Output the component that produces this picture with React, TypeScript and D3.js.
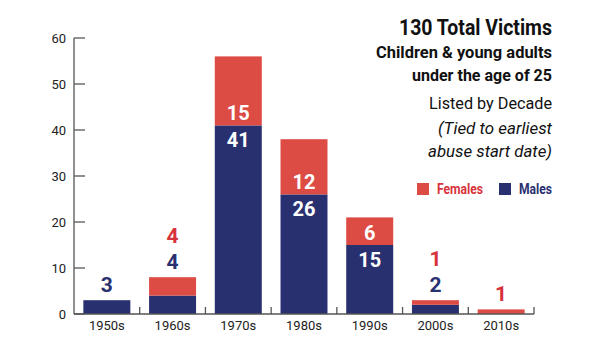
import React from 'react';
import * as d3 from 'd3';

const decades = ['1950s', '1960s', '1970s', '1980s', '1990s', '2000s', '2010s'];
const males = [3, 4, 41, 26, 15, 2, 0];
const females = [0, 4, 15, 12, 6, 1, 1];
const yTicks = [0, 10, 20, 30, 40, 50, 60];
const titleLines = [
  { text: '130 Total Victims', weight: 700, style: 'normal', size: 21.5, y: 35, w: 153 },
  { text: 'Children & young adults', weight: 700, style: 'normal', size: 17, y: 58, w: 176 },
  { text: 'under the age of 25', weight: 700, style: 'normal', size: 17, y: 81, w: 140 },
  { text: 'Listed by Decade', weight: 400, style: 'normal', size: 17, y: 109, w: 123 },
  { text: '(Tied to earliest', weight: 400, style: 'italic', size: 17, y: 134, w: 114 },
  { text: 'abuse start date)', weight: 400, style: 'italic', size: 17, y: 157, w: 124 },
];

const NAVY = '#29306f';
const RED = '#dc4b44';
const LABEL_RED = '#d8323c';
const FONT = 'Roboto, "Open Sans", sans-serif';

export default function App() {
  const W = 600, H = 338;
  const x = d3.scaleBand().domain(decades).range([74, 534]).paddingInner(0.285).paddingOuter(0.1425);
  const y = d3.scaleLinear().domain([0, 60]).range([314, 38]);
  const bw = x.bandwidth();
  const boundaries = d3.range(decades.length + 1).map((i) => 74 + i * x.step());

  return (
    <svg width={W} height={H} style={{ position: 'absolute', left: 0, top: 0, background: '#fff' }} fontFamily={FONT}>
      {/* y axis */}
      <line x1={74} x2={74} y1={y(60)} y2={y(0)} stroke="#555" strokeWidth={1.3} />
      {yTicks.map((t) => (
        <g key={t}>
          <line x1={74} x2={85} y1={y(t)} y2={y(t)} stroke="#555" strokeWidth={1.3} />
          <text x={66} y={y(t) + 4.5} textAnchor="end" fontSize={13} fill="#222">{t}</text>
        </g>
      ))}
      {/* bars */}
      {decades.map((d, i) => {
        const x0 = x(d)!;
        const m = males[i], f = females[i];
        return (
          <g key={d}>
            {m > 0 && <rect x={x0} y={y(m)} width={bw} height={y(0) - y(m)} fill={NAVY} />}
            {f > 0 && <rect x={x0} y={y(m + f)} width={bw} height={y(m) - y(m + f)} fill={RED} />}
          </g>
        );
      })}
      {/* x axis */}
      <line x1={74} x2={534} y1={y(0)} y2={y(0)} stroke="#555" strokeWidth={1.3} />
      {boundaries.slice(1).map((bx, i) => (
        <line key={i} x1={bx} x2={bx} y1={y(0)} y2={y(0) - 7} stroke="#555" strokeWidth={1.3} />
      ))}
      {decades.map((d) => (
        <text key={d} x={x(d)! + bw / 2} y={330} textAnchor="middle" fontSize={13} fill="#222">{d}</text>
      ))}
      {/* value labels */}
      {decades.map((d, i) => {
        const cx = x(d)! + bw / 2;
        const m = males[i], f = females[i];
        const inside = m >= 10;
        if (inside) {
          return (
            <g key={d} fontSize={20} fontWeight={700} fill="#fff" textAnchor="middle">
              <text x={cx} y={y(m) - 5.5}>{f}</text>
              <text x={cx} y={y(m) + 21.5}>{m}</text>
            </g>
          );
        }
        const top = y(m + f);
        const out: React.ReactNode[] = [];
        let base = top - 8;
        if (m > 0) {
          out.push(<text key="m" x={cx} y={base} fill={NAVY}>{m}</text>);
          base -= 26;
        }
        if (f > 0) {
          out.push(<text key="f" x={cx} y={base} fill={LABEL_RED}>{f}</text>);
        }
        return (
          <g key={d} fontSize={21} fontWeight={700} textAnchor="middle">{out}</g>
        );
      })}
      {/* title block */}
      {titleLines.map((l) => (
        <text key={l.text} x={552} y={l.y} textAnchor="end" fontSize={l.size} fontWeight={l.weight}
          fontStyle={l.style} fill="#111" textLength={l.w} lengthAdjust="spacingAndGlyphs">{l.text}</text>
      ))}
      {/* legend */}
      <rect x={417} y={183} width={12} height={12} fill={RED} />
      <text x={437} y={194} fontSize={14.5} fontWeight={700} fill={LABEL_RED} textLength={46} lengthAdjust="spacingAndGlyphs">Females</text>
      <rect x={499} y={183} width={12} height={12} fill={NAVY} />
      <text x={519} y={194} fontSize={14.5} fontWeight={700} fill={NAVY} textLength={33} lengthAdjust="spacingAndGlyphs">Males</text>
    </svg>
  );
}
